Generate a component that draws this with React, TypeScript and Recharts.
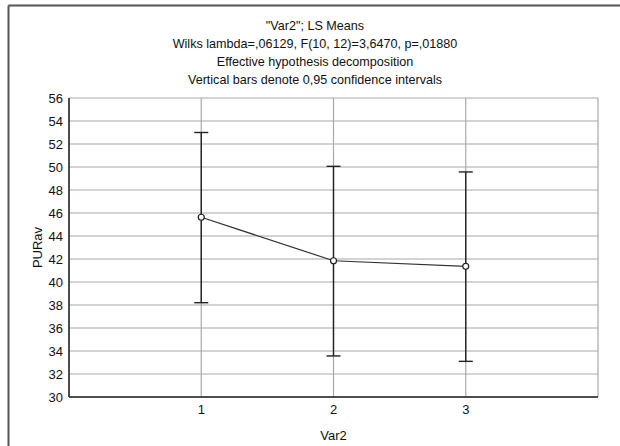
import React from 'react';
import { ComposedChart, Line, XAxis, YAxis, CartesianGrid, ErrorBar } from 'recharts';

const categories = [1, 2, 3];
const means = [45.63, 41.85, 41.36];
const upper = [53.0, 50.06, 49.57];
const lower = [38.2, 33.57, 33.1];
const yTicks = [30, 32, 34, 36, 38, 40, 42, 44, 46, 48, 50, 52, 54, 56];
const titleLines = [
  '"Var2"; LS Means',
  'Wilks lambda=,06129, F(10, 12)=3,6470, p=,01880',
  'Effective hypothesis decomposition',
  'Vertical bars denote 0,95 confidence intervals',
];

const data = categories.map((c, i) => ({
  x: c,
  y: means[i],
  err: [means[i] - lower[i], upper[i] - means[i]],
}));

const FONT = '"Liberation Sans", Arial, sans-serif';
const dark = '#222';
const grid = '#a8a8a8';

export default function App() {
  return (
    <div style={{ position: 'absolute', left: 0, top: 0, width: 620, height: 446, overflow: 'hidden', background: '#fff' }}>
      <ComposedChart
        width={620}
        height={446}
        data={data}
        margin={{ top: 98, right: 22, bottom: 0, left: 0 }}
        style={{ fontFamily: FONT }}
      >
        <CartesianGrid stroke={grid} strokeWidth={1.2} />
        <XAxis
          dataKey="x"
          type="number"
          domain={[0, 4]}
          ticks={categories}
          height={49}
          tickLine={false}
          tickSize={0}
          tickMargin={8}
          axisLine={{ stroke: dark, strokeWidth: 1.5 }}
          tick={{ fill: '#111', fontSize: 13, fontFamily: FONT }}
          label={{ value: 'Var2', position: 'insideBottom', offset: 6, fill: '#111', fontSize: 13, fontFamily: FONT }}
        />
        <XAxis
          xAxisId="top"
          orientation="top"
          dataKey="x"
          type="number"
          domain={[0, 4]}
          ticks={categories}
          height={0}
          mirror
          tick={false}
          tickSize={4}
          tickLine={{ stroke: dark }}
          axisLine={{ stroke: dark, strokeWidth: 1.5 }}
        />
        <XAxis
          xAxisId="bot2"
          orientation="bottom"
          dataKey="x"
          type="number"
          domain={[0, 4]}
          ticks={categories}
          height={0}
          mirror
          tick={false}
          tickSize={4}
          tickLine={{ stroke: dark }}
          axisLine={false}
        />
        <YAxis
          type="number"
          domain={[30, 56]}
          ticks={yTicks}
          width={69}
          interval={0}
          tickLine={false}
          tickSize={0}
          tickMargin={6}
          axisLine={{ stroke: dark, strokeWidth: 1.5 }}
          tick={{ fill: '#111', fontSize: 13, fontFamily: FONT }}
          label={{ value: 'PURav', angle: -90, position: 'center', dx: 3, fill: '#111', fontSize: 13, fontFamily: FONT }}
        />
        <YAxis
          yAxisId="right"
          orientation="right"
          type="number"
          domain={[30, 56]}
          ticks={yTicks}
          width={0}
          mirror
          tick={false}
          tickSize={4}
          tickLine={{ stroke: dark }}
          axisLine={{ stroke: dark, strokeWidth: 1.5 }}
        />
        <YAxis
          yAxisId="left2"
          orientation="left"
          type="number"
          domain={[30, 56]}
          ticks={yTicks}
          width={0}
          mirror
          tick={false}
          tickSize={4}
          tickLine={{ stroke: dark }}
          axisLine={false}
        />
        <Line
          dataKey="y"
          stroke="#333"
          strokeWidth={1.2}
          isAnimationActive={false}
          dot={{ r: 3, stroke: '#222', strokeWidth: 1.2, fill: '#fff' }}
          activeDot={false}
        >
          <ErrorBar dataKey="err" width={7} stroke={dark} strokeWidth={1.4} direction="y" isAnimationActive={false} />
        </Line>
      </ComposedChart>
      <svg
        width={620}
        height={446}
        style={{ position: 'absolute', left: 0, top: 0, pointerEvents: 'none' }}
      >
        <line x1={8.5} y1={5.5} x2={620} y2={5.5} stroke="#555" strokeWidth={2} />
        <line x1={8.5} y1={5.5} x2={8.5} y2={446} stroke="#555" strokeWidth={2} />
        {titleLines.map((t, i) => (
          <text
            key={i}
            x={315}
            y={29.5 + i * 18.3}
            textAnchor="middle"
            fontSize={12.6}
            fontFamily={FONT}
            fill="#111"
          >
            {t}
          </text>
        ))}
      </svg>
    </div>
  );
}
